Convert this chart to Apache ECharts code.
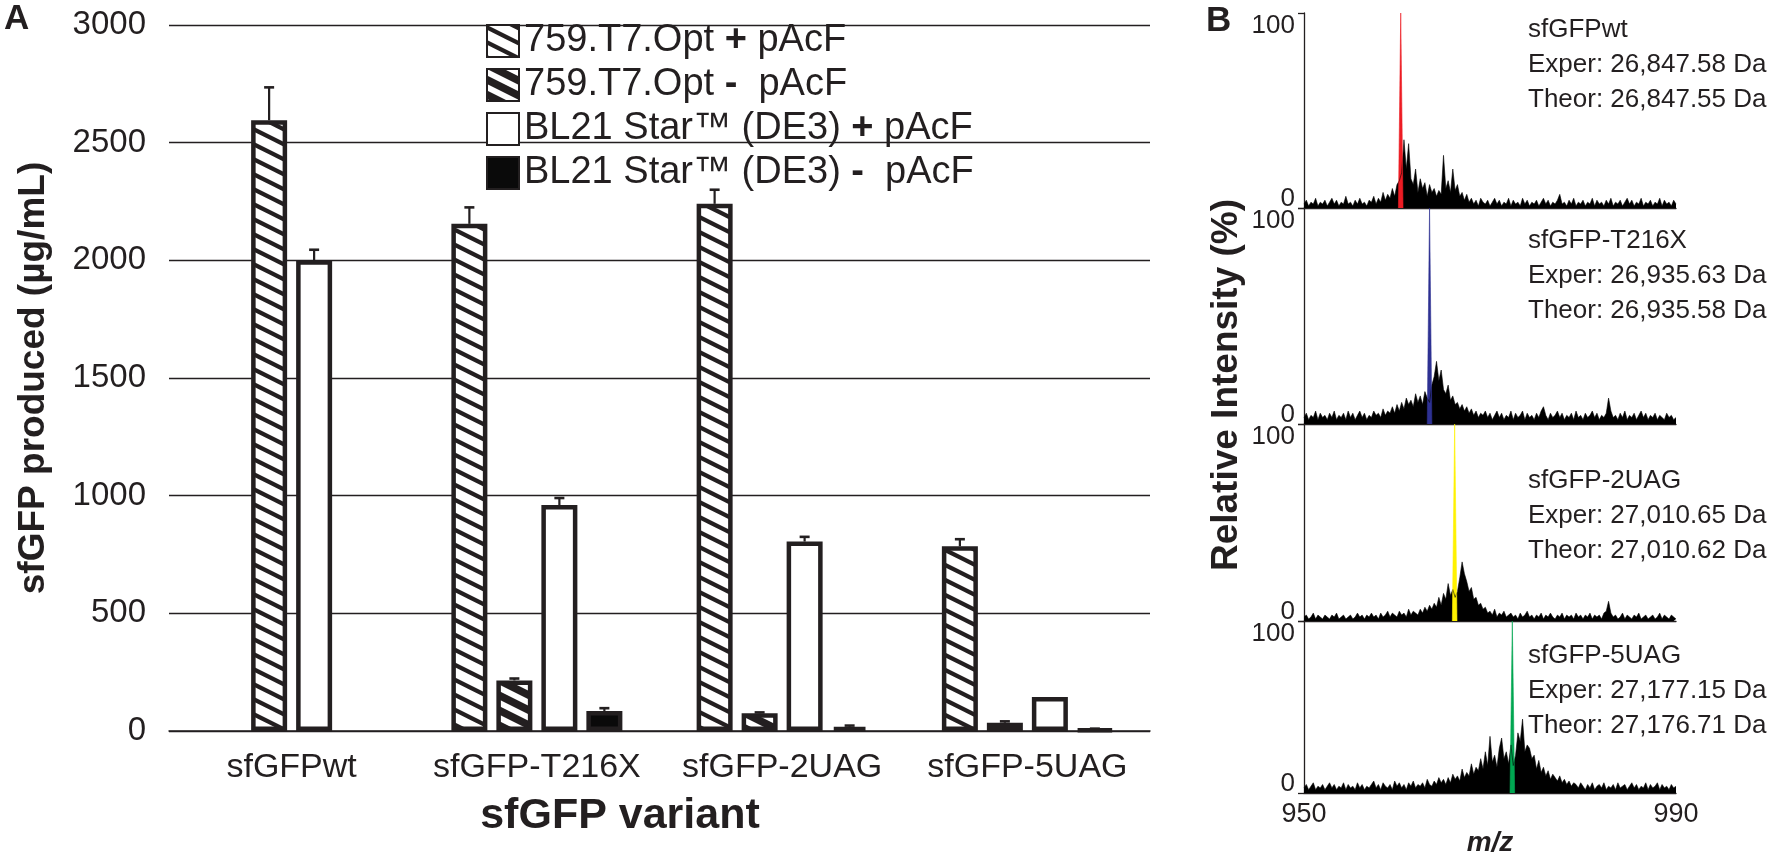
<!DOCTYPE html>
<html><head><meta charset="utf-8">
<script src="https://cdn.jsdelivr.net/npm/echarts@6/dist/echarts.min.js"></script>
<style>html,body{margin:0;padding:0;background:#fff}#c{width:1790px;height:858px}</style>
</head><body><div id="c"></div>
<script>
// ---------- Panel A data ----------
const categories = ['sfGFPwt', 'sfGFP-T216X', 'sfGFP-2UAG', 'sfGFP-5UAG'];
const seriesNames = ['759.T7.Opt + pAcF', '759.T7.Opt -  pAcF', 'BL21 Star\u2122 (DE3) + pAcF', 'BL21 Star\u2122 (DE3) -  pAcF'];
const t7Plus     = [2595, 2155, 2240, 785];
const t7PlusErr  = [140, 70, 60, 30];
const t7Minus    = [null, 215, 75, 35];
const t7MinusErr = [null, 8, 4, 6];
const blPlus     = [2000, 960, 805, 145];
const blPlusErr  = [45, 30, 20, 0];
const blMinus    = [null, 85, 18, 6];
const blMinusErr = [null, 12, 5, 4];
const yTicksA = [0, 500, 1000, 1500, 2000, 2500, 3000];

// ---------- Panel B data (relative intensity, %, sampled every 0.25 m/z from 950 to 990) ----------
const mzStart = 950, mzEnd = 990, mzStep = 0.25;
const specWt = [
  2,4,1,3,2,5,1,3,2,4, 1,3,5,2,4,1,3,2,6,2,
  3,1,4,2,5,2,3,1,4,3, 6,2,5,3,8,4,7,5,10,6,
  12,14,18,35,20,33,15,12,20,8, 15,10,13,6,12,8,10,6,9,7,
  27,10,14,8,20,9,12,6,8,4, 7,3,5,2,4,1,5,3,2,4,
  1,3,5,2,4,1,3,2,5,1, 4,2,3,1,5,2,4,1,3,2,
  4,1,3,5,2,4,1,3,2,4, 7,2,3,1,4,2,5,1,3,2,
  4,1,3,2,5,1,4,2,3,1, 4,2,5,1,3,2,4,1,3,5,
  2,4,1,3,2,5,1,3,2,4, 1,3,2,5,1,4,2,3,1,4,2];
const specT216X = [
  3,5,2,4,3,6,2,5,3,4, 2,5,3,6,2,4,3,5,2,6,
  3,5,2,4,6,3,5,2,4,3, 6,4,5,3,7,4,6,5,8,5,
  9,6,10,7,12,9,11,8,14,10, 13,9,15,12,10,18,22,29,20,25,
  16,14,18,11,13,9,10,7,9,6, 8,5,7,4,6,3,5,4,6,3,
  5,2,4,6,3,5,2,4,3,6, 2,5,3,4,6,2,5,3,4,2,
  5,3,6,8,4,2,5,3,4,6, 3,5,2,4,3,5,2,6,3,4,
  2,5,3,4,6,3,5,2,4,3, 5,12,6,3,4,2,5,3,6,2,
  4,3,5,2,4,6,3,5,2,4, 3,5,2,4,3,2,5,3,4,2,3];
const spec2UAG = [
  2,3,1,2,4,1,3,2,1,3, 2,1,3,2,4,1,2,3,1,2,
  3,1,2,4,2,3,1,3,2,4, 2,3,1,4,2,3,5,2,4,3,
  2,5,3,4,2,6,3,5,4,3, 6,4,7,5,8,6,9,7,12,8,
  14,11,19,13,16,12,15,22,30,24, 20,15,17,11,12,8,9,6,7,4,
  5,3,6,2,4,3,5,2,3,4, 2,3,1,4,2,3,5,2,3,1,
  3,2,4,1,3,2,4,2,1,3, 2,4,1,3,2,3,1,4,2,3,
  1,3,2,4,1,3,2,3,1,4, 5,10,4,2,3,1,2,4,1,3,
  2,1,3,2,4,1,2,3,1,2, 3,1,2,4,1,3,2,1,3,2,1];
const spec5UAG = [
  3,5,2,4,6,2,4,3,5,2, 4,6,3,5,2,4,3,6,2,5,
  3,4,2,6,3,5,2,4,3,5, 7,3,5,2,6,4,3,5,2,7,
  4,6,3,5,2,6,4,7,3,5, 4,6,3,8,5,4,7,5,9,6,
  8,5,9,6,11,8,10,7,14,9, 12,10,17,11,15,13,20,14,24,16,
  33,18,22,15,26,32,20,24,17,28, 16,22,35,30,43,24,28,26,20,22,
  14,19,12,15,10,13,8,11,9,7, 10,6,8,5,7,4,6,5,3,6,
  4,2,5,3,6,2,4,5,3,6, 2,4,3,5,2,6,3,4,5,2,
  4,6,3,5,2,4,3,6,2,5, 3,4,6,2,5,3,4,2,5,3,4];
const spectra = [specWt, specT216X, spec2UAG, spec5UAG];
const peakMz = [960.4, 963.5, 966.2, 972.4];
const peakColors = ['#ed1c24', '#2e3192', '#fff200', '#00a651'];
const specNames = ['sfGFPwt', 'sfGFP-T216X', 'sfGFP-2UAG', 'sfGFP-5UAG'];
const experMass = ['26,847.58', '26,935.63', '27,010.65', '27,177.15'];
const theorMass = ['26,847.55', '26,935.58', '27,010.62', '27,176.71'];

// ---------- styling ----------
const INK = '#231f20';
const FONT = 'Liberation Sans, Arial, Helvetica, sans-serif';
const BAR_W = 36, GAP_RATIO = 0.25;

function hatch(bg, fg, thick) {
  const W = 30, P = 15;
  const cv = document.createElement('canvas'); cv.width = W; cv.height = P;
  const ctx = cv.getContext('2d');
  ctx.fillStyle = bg; ctx.fillRect(0, 0, W, P);
  ctx.fillStyle = fg;
  for (let k = -2; k <= 1; k++) {
    const c = k * P;
    ctx.beginPath(); ctx.moveTo(0, c); ctx.lineTo(W, c + P); ctx.lineTo(W, c + P + thick); ctx.lineTo(0, c + thick);
    ctx.closePath(); ctx.fill();
  }
  return { image: cv, repeat: 'repeat' };
}
const lightHatch = hatch('#ffffff', INK, 4.8);
const darkHatch = hatch(INK, '#ffffff', 6.5);
const fills = [lightHatch, darkHatch, '#ffffff', '#0a0a0a'];

const values = [t7Plus, t7Minus, blPlus, blMinus];
const errs = [t7PlusErr, t7MinusErr, blPlusErr, blMinusErr];

// sfGFPwt has only two bars, drawn centred in the group (slots 2 and 3)
function slotFor(s, i) { return (i === 0 && s === 0) ? 1 : s; }

const barSeries = seriesNames.map((name, s) => ({
  type: 'bar', name, xAxisIndex: 0, yAxisIndex: 0,
  barWidth: BAR_W, barGap: (GAP_RATIO * 100) + '%',
  itemStyle: { color: fills[s], borderColor: INK, borderWidth: 4.5 },
  data: categories.map((c, i) => {
    for (let t = 0; t < 4; t++) {
      if (values[t][i] != null && slotFor(t, i) === s) {
        return t === s ? values[t][i] : { value: values[t][i], itemStyle: { color: fills[t] } };
      }
    }
    return null;
  })
}));

const errData = [];
values.forEach((arr, s) => arr.forEach((v, i) => {
  if (v != null && errs[s][i]) errData.push([i, v, errs[s][i], slotFor(s, i)]);
}));
const errSeries = {
  type: 'custom', xAxisIndex: 0, yAxisIndex: 0, z: 5, silent: true,
  data: errData,
  renderItem(params, api) {
    const ci = api.value(0), v = api.value(1), e = api.value(2), slot = api.value(3);
    const pitch = BAR_W * (1 + GAP_RATIO);
    const b = api.coord([ci, v]), t = api.coord([ci, v + e]);
    const x = b[0] + (slot - 1.5) * pitch;
    return { type: 'group', children: [
      { type: 'line', shape: { x1: x, y1: b[1], x2: x, y2: t[1] }, style: { stroke: INK, lineWidth: 2.2 } },
      { type: 'line', shape: { x1: x - 5, y1: t[1], x2: x + 5, y2: t[1] }, style: { stroke: INK, lineWidth: 2.6 } }
    ]};
  }
};

// ---------- panel B layout ----------
const bTops = [13, 208, 424, 621];
const bHeights = [195, 216, 197, 196];
const B_LEFT = 1304, B_RIGHT = 114;

const grids = [{ left: 169, right: 640, top: 25, bottom: 127 }];
const xAxes = [{
  type: 'category', gridIndex: 0, data: categories,
  axisLine: { lineStyle: { color: INK, width: 1.5 } }, axisTick: { show: false },
  axisLabel: { interval: 0, fontSize: 34, color: INK, fontFamily: FONT, margin: 20 }
}];
const yAxes = [{
  type: 'value', gridIndex: 0, min: yTicksA[0], max: yTicksA[yTicksA.length - 1], interval: yTicksA[1] - yTicksA[0],
  axisLine: { show: false }, axisTick: { show: false },
  splitLine: { lineStyle: { color: INK, width: 1.3 } },
  axisLabel: { fontSize: 33, color: INK, fontFamily: FONT, margin: 23, formatter: v => String(v) }
}];
const specSeries = [];
const graphics = [
  { type: 'text', left: 4, top: 2, style: { text: 'A', font: 'bold 35px ' + FONT, fill: INK } },
  { type: 'text', left: 1206, top: 4, style: { text: 'B', font: 'bold 35px ' + FONT, fill: INK } },
  { type: 'text', x: 34, y: 378, rotation: Math.PI / 2,
    style: { text: 'sfGFP produced (\u00b5g/mL)', font: 'bold 37px ' + FONT, fill: INK, align: 'center', verticalAlign: 'middle' } },
  { type: 'text', x: 620, y: 816,
    style: { text: 'sfGFP variant', font: 'bold 43px ' + FONT, fill: INK, align: 'center', verticalAlign: 'middle' } },
  { type: 'text', x: 1227, y: 385, rotation: Math.PI / 2,
    style: { text: 'Relative Intensity (%)', font: 'bold 37px ' + FONT, fill: INK, align: 'center', verticalAlign: 'middle' } }
];
const textTops = [12, 223, 463, 638];

for (let k = 0; k < 4; k++) {
  const g = k + 1, last = k === 3;
  grids.push({ left: B_LEFT, right: B_RIGHT, top: bTops[k], height: bHeights[k] });
  xAxes.push({
    type: 'value', gridIndex: g, min: mzStart, max: mzEnd, interval: mzEnd - mzStart,
    axisLine: { onZero: false, lineStyle: { color: INK, width: 1.3 } }, axisTick: { show: false },
    splitLine: { show: false },
    axisLabel: { show: last, fontSize: 27, color: INK, fontFamily: FONT, margin: 8 },
    name: last ? 'm/z' : '', nameLocation: 'middle', nameGap: 11,
    nameTextStyle: { fontSize: 28, fontWeight: 'bold', fontStyle: 'italic', color: INK, fontFamily: FONT, verticalAlign: 'top' }
  });
  yAxes.push({
    type: 'value', gridIndex: g, min: 0, max: 100, interval: 100,
    axisLine: { show: true, lineStyle: { color: INK, width: 1.3 } },
    axisTick: { show: true, length: 6, lineStyle: { color: INK, width: 1.3 } },
    splitLine: { show: false },
    axisLabel: { fontSize: 26, color: INK, fontFamily: FONT, margin: 9,
      verticalAlignMinLabel: 'bottom', verticalAlignMaxLabel: 'top',
      formatter: v => v === 100 ? '{t|100}' : '{z|0}',
      rich: { t: { fontSize: 26, lineHeight: 18, padding: [7, 0, 0, 0], color: INK, fontFamily: FONT },
              z: { fontSize: 26, lineHeight: 18, color: INK, fontFamily: FONT } } }
  });
  specSeries.push({
    type: 'line', xAxisIndex: g, yAxisIndex: g, showSymbol: false, silent: true,
    lineStyle: { color: '#000', width: 0.6 }, areaStyle: { color: '#000', opacity: 1 },
    data: spectra[k].map((v, i) => [mzStart + i * mzStep, v])
  });
  specSeries.push({
    type: 'line', xAxisIndex: g, yAxisIndex: g, showSymbol: false, silent: true, z: 3,
    lineStyle: { color: peakColors[k], width: 0.6 }, areaStyle: { color: peakColors[k], opacity: 1 },
    data: [[peakMz[k] - 0.25, 0], [peakMz[k], 100], [peakMz[k] + 0.25, 0]]
  });
  graphics.push({ type: 'text', left: 1528, top: textTops[k],
    style: { text: specNames[k] + '\nExper: ' + experMass[k] + ' Da\nTheor: ' + theorMass[k] + ' Da',
      font: '26px ' + FONT, fill: INK, lineHeight: 35 } });
}

const chart = echarts.init(document.getElementById('c'));
chart.setOption({
  animation: false,
  backgroundColor: '#fff',
  grid: grids, xAxis: xAxes, yAxis: yAxes,
  legend: {
    data: seriesNames, orient: 'vertical', left: 486, top: 22, padding: 0,
    itemWidth: 32, itemHeight: 32, itemGap: 6, icon: 'rect',
    textStyle: { fontSize: 38, color: INK, fontFamily: FONT, lineHeight: 36,
      rich: { b: { fontSize: 38, fontWeight: 'bold', color: INK, fontFamily: FONT, lineHeight: 36 } } },
    formatter: n => n.replace(/ ([+-]) /, ' {b|$1} ')
  },
  graphic: graphics,
  series: [...barSeries, errSeries, ...specSeries]
});
</script>
</body></html>
